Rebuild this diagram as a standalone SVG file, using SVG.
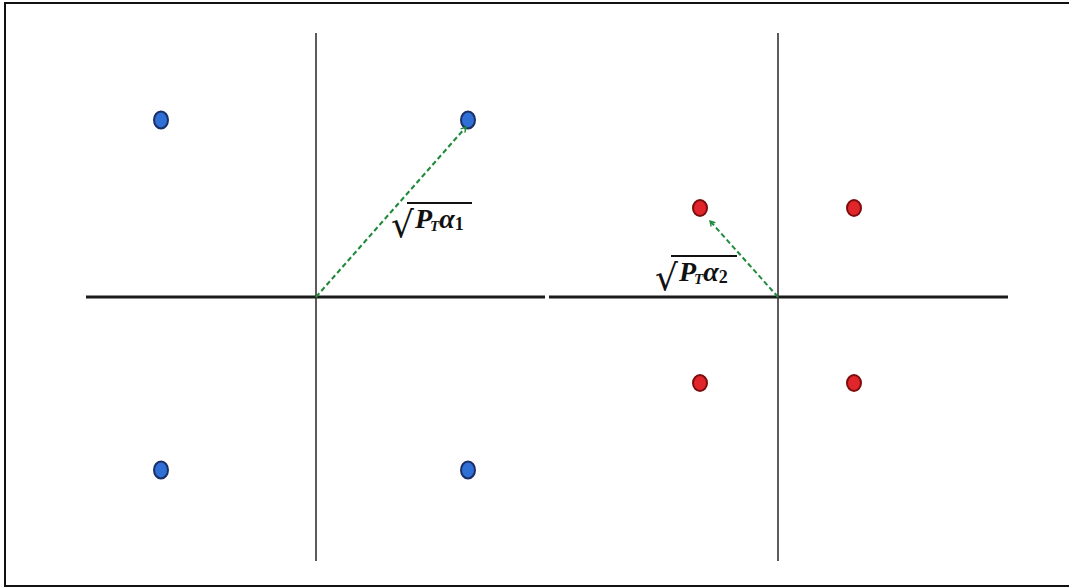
<svg xmlns="http://www.w3.org/2000/svg" width="1069" height="587" viewBox="0 0 1069 587">
  <defs>
    <style>
      .axis-h { stroke: #1a1a1a; stroke-width: 3; fill: none; }
      .axis-v { stroke: #333333; stroke-width: 1.6; fill: none; }
      .blue { fill: #2f6fd6; stroke: #1a2f66; stroke-width: 2; }
      .red { fill: #e0262a; stroke: #7a0d0d; stroke-width: 2; }
      .vec { stroke: #1e8a3c; stroke-width: 2; stroke-dasharray: 5 3; fill: none; }
      .lbl { font-family: "Liberation Serif", "DejaVu Serif", serif; font-weight: bold; fill: #111111; font-size: 28px; }
      .rt { font-family: "DejaVu Sans", "Liberation Serif", serif; font-weight: normal; font-size: 36px; }
      .it { font-style: italic; }
      .sub { font-size: 15px; font-style: italic; }
      .num { font-size: 18px; }
      .rad { fill: none; stroke: #111111; stroke-width: 1.8; }
    </style>
    <marker id="arrow" viewBox="0 0 10 10" refX="8" refY="5" markerWidth="7" markerHeight="7" markerUnits="userSpaceOnUse" orient="auto">
      <path d="M1,1 L8,5 L1,9" fill="none" stroke="#1e8a3c" stroke-width="2"/>
    </marker>
  </defs>
  <rect x="0" y="0" width="1069" height="587" fill="#ffffff"/>
  <rect x="5" y="3" width="1080" height="583" fill="none" stroke="#111111" stroke-width="2"/>

  <g id="axes">
    <line class="axis-h" x1="86" y1="297" x2="545" y2="297"/>
    <line class="axis-h" x1="549" y1="297" x2="1008" y2="297"/>
    <line class="axis-v" x1="316" y1="33" x2="316" y2="561"/>
    <line class="axis-v" x1="778" y1="33" x2="778" y2="561"/>
  </g>

  <g id="b1"><ellipse class="blue" cx="161" cy="120" rx="7" ry="8.5"/></g>
  <g id="b2"><ellipse class="blue" cx="468" cy="120" rx="7" ry="8.5"/></g>
  <g id="b3"><ellipse class="blue" cx="161" cy="470" rx="7" ry="8.5"/></g>
  <g id="b4"><ellipse class="blue" cx="468" cy="470" rx="7" ry="8.5"/></g>

  <g id="r1"><ellipse class="red" cx="700" cy="208" rx="7" ry="8"/></g>
  <g id="r2"><ellipse class="red" cx="854" cy="208" rx="7" ry="8"/></g>
  <g id="r3"><ellipse class="red" cx="700" cy="383" rx="7" ry="8"/></g>
  <g id="r4"><ellipse class="red" cx="854" cy="383" rx="7" ry="8"/></g>

  <g id="connectors">
    <line class="vec" x1="316" y1="297" x2="466" y2="127" marker-end="url(#arrow)"/>
    <line class="vec" x1="778" y1="297" x2="710" y2="221" marker-end="url(#arrow)"/>
  </g>

  <g id="label1">
    <line class="rad" x1="407" y1="203" x2="472" y2="203"/>
    <text class="lbl" x="391" y="237"><tspan class="rt">√</tspan><tspan class="it" x="415" y="228">P</tspan><tspan class="sub" dx="-2" dy="3">T</tspan><tspan class="it" dy="-3">α</tspan><tspan class="num" dy="2">1</tspan></text>
  </g>

  <g id="label2">
    <line class="rad" x1="671" y1="256" x2="737" y2="256"/>
    <text class="lbl" x="655" y="290"><tspan class="rt">√</tspan><tspan class="it" x="679" y="281">P</tspan><tspan class="sub" dx="-2" dy="3">T</tspan><tspan class="it" dy="-3">α</tspan><tspan class="num" dy="2">2</tspan></text>
  </g>
</svg>
